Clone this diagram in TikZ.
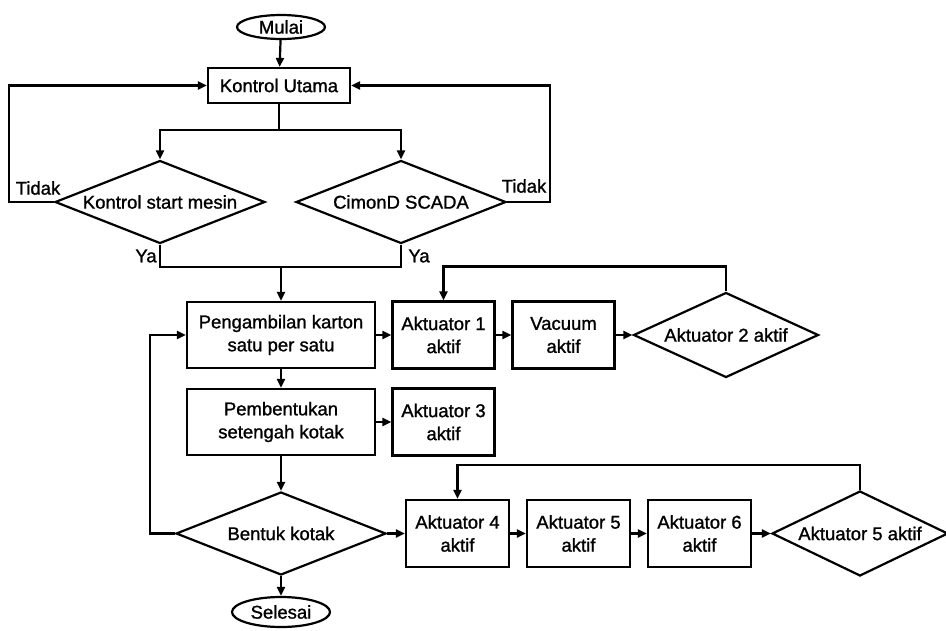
\documentclass[tikz,border=0pt]{standalone}
\usepackage{fontspec}
\newfontfamily\diafont{Liberation Sans}[FakeBold=1.2]
\usetikzlibrary{shapes.geometric,arrows.meta}
\begin{document}
\begin{tikzpicture}[x=1pt,y=-1pt, line width=2.2pt,
  font=\diafont\fontsize{18.5}{23}\selectfont,
  box/.style={draw, rectangle, inner sep=0pt, align=center},
  abox/.style={box, minimum width=102pt, minimum height=67pt},
  dia/.style={draw, diamond, inner sep=0pt, shape aspect=2.5},
  term/.style={draw, ellipse, inner sep=0pt},
  arr/.style={-{Triangle[length=9pt,width=8pt]}},
  lbl/.style={inner sep=0pt}]
\useasboundingbox (0,0) rectangle (946,630);
\clip (0,0) rectangle (946,630);

% nodes
\node[term, minimum width=88pt, minimum height=24pt] (mulai) at (281,27) {Mulai};
\node[box, minimum width=142pt, minimum height=35pt] (ku) at (279,85.5) {Kontrol Utama};
\node[dia, minimum width=210pt, minimum height=83pt] (d1) at (160,202) {Kontrol start mesin};
\node[dia, minimum width=210pt, minimum height=83pt] (d2) at (401,202) {CimonD SCADA};
\node[box, minimum width=188pt, minimum height=66pt] (peng) at (281,335) {Pengambilan karton\\satu per satu};
\node[box, minimum width=188pt, minimum height=66pt] (pemb) at (281,422) {Pembentukan\\setengah kotak};
\node[abox] (a1) at (443.5,335) {Aktuator 1\\aktif};
\node[abox] (vac) at (563.5,335) {Vacuum\\aktif};
\node[dia, minimum width=185pt, minimum height=85pt] (d3) at (726,335) {Aktuator 2 aktif};
\node[abox] (a3) at (443.5,422) {Aktuator 3\\aktif};
\node[dia, minimum width=210pt, minimum height=83pt] (d4) at (281,533.5) {Bentuk kotak};
\node[term, minimum width=98pt, minimum height=30pt] (sel) at (281,612) {Selesai};
\node[abox, minimum width=103pt] (a4) at (457.5,533.5) {Aktuator 4\\aktif};
\node[abox, minimum width=103pt] (a5) at (578.5,533.5) {Aktuator 5\\aktif};
\node[abox, minimum width=103pt] (a6) at (699.5,533.5) {Aktuator 6\\aktif};
\node[dia, minimum width=176pt, minimum height=85pt] (d5) at (860,533.5) {Aktuator 5 aktif};

% labels
\node[lbl] (t1) at (38,188) {Tidak};
\node[lbl] (t2) at (524,186) {Tidak};
\node[lbl] (y1) at (146,256) {Ya};
\node[lbl] (y2) at (419,256) {Ya};

% connectors
\coordinate (split) at (279,130);
\coordinate (merge) at (281,267);
\draw[arr] (mulai) -- (ku);
\draw (ku.south) -- (split);
\draw[arr] (split) -| (d1.north);
\draw[arr] (split) -| (d2.north);
\draw[arr] (d1.west) -- ++(-45,0) |- (ku.west);
\draw[arr] (d2.east) -- ++(43,0) |- (ku.east);
\draw (d1.south) |- (merge);
\draw (d2.south) |- (merge);
\draw[arr] (merge) -- (peng.north);
\draw[arr] (peng) -- (pemb);
\draw[arr] (pemb) -- (d4);
\draw[arr] (d4) -- (sel);
\draw[arr] (d4.west) -- ++(-25,0) |- (peng.west);
\draw[arr] (peng.east) -- (a1.west);
\draw[arr] (a1) -- (vac);
\draw[arr] (vac) -- (d3);
\draw[arr] (d3.north) -- ++(0,-25) -| (a1.north);
\draw[arr] (pemb.east) -- (a3.west);
\draw[arr] (d4.east) -- (a4.west);
\draw[arr] (a4) -- (a5);
\draw[arr] (a5) -- (a6);
\draw[arr] (a6) -- (d5);
\draw[arr] (d5.north) -- ++(0,-25) -| (a4.north);
\end{tikzpicture}
\end{document}
